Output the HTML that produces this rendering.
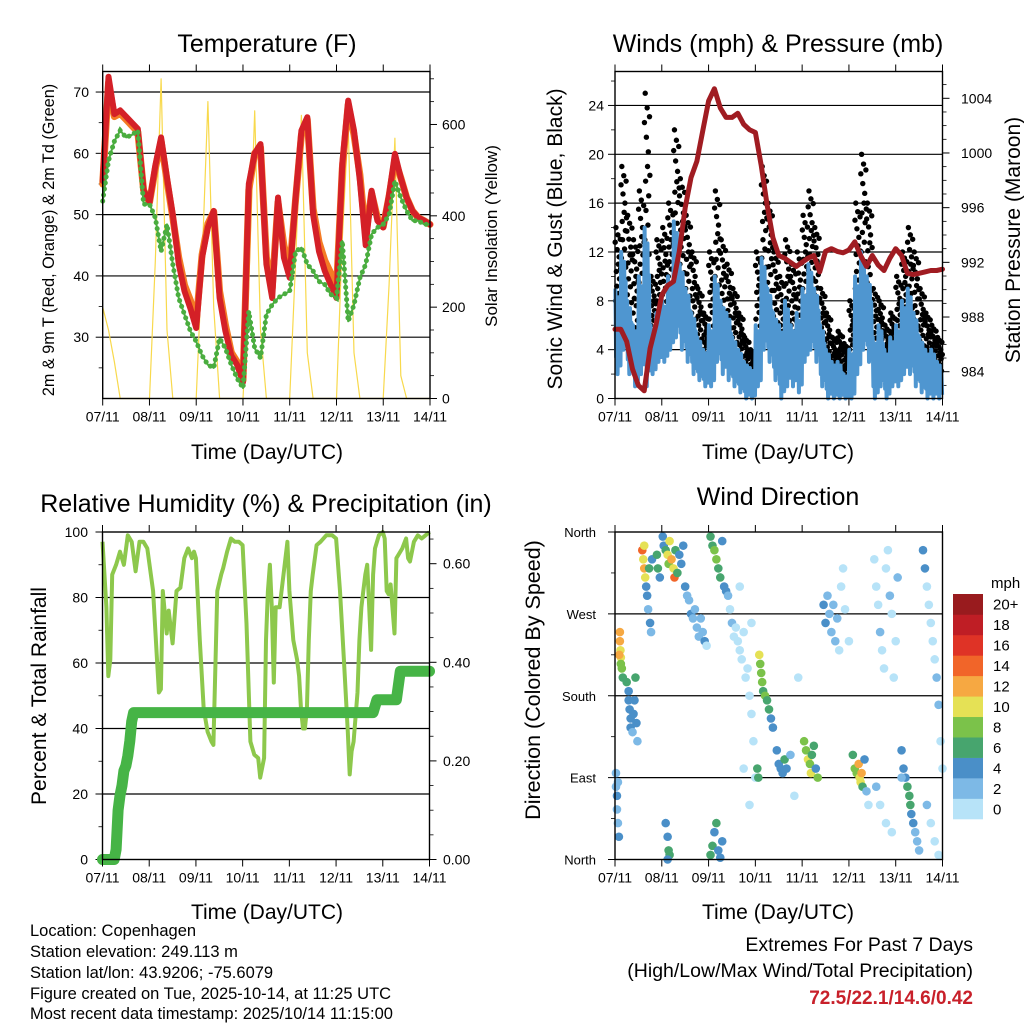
<!DOCTYPE html>
<html><head><meta charset="utf-8"><title>Weather station summary</title>
<style>
html,body{margin:0;padding:0;background:#fff;}
svg{display:block;font-family:"Liberation Sans",Arial,sans-serif;}
</style></head>
<body>
<svg id="chart" width="1024" height="1024" viewBox="0 0 1024 1024" xmlns="http://www.w3.org/2000/svg">
<rect x="0" y="0" width="1024" height="1024" fill="#fff"/>
<!-- Titles -->
<text x="267" y="52" font-size="25" text-anchor="middle">Temperature (F)</text>
<text x="778" y="52" font-size="25" text-anchor="middle">Winds (mph) &amp; Pressure (mb)</text>
<text x="266" y="512" font-size="25" text-anchor="middle">Relative Humidity (%) &amp; Precipitation (in)</text>
<text x="778" y="505" font-size="25" text-anchor="middle">Wind Direction</text>
<!-- X axis titles -->
<text x="267" y="459" font-size="21" text-anchor="middle">Time (Day/UTC)</text>
<text x="778" y="459" font-size="21" text-anchor="middle">Time (Day/UTC)</text>
<text x="267" y="919" font-size="21" text-anchor="middle">Time (Day/UTC)</text>
<text x="778" y="919" font-size="21" text-anchor="middle">Time (Day/UTC)</text>
<!-- Y axis titles -->
<text transform="translate(54,240) rotate(-90)" font-size="16.2" text-anchor="middle">2m &amp; 9m T (Red, Orange) &amp; 2m Td (Green)</text>
<text transform="translate(497,236) rotate(-90)" font-size="17" text-anchor="middle">Solar Insolation (Yellow)</text>
<text transform="translate(562,239) rotate(-90)" font-size="21" text-anchor="middle">Sonic Wind &amp; Gust (Blue, Black)</text>
<text transform="translate(1020,240) rotate(-90)" font-size="21" text-anchor="middle">Station Pressure (Maroon)</text>
<text transform="translate(46,696) rotate(-90)" font-size="21" text-anchor="middle">Percent &amp; Total Rainfall</text>
<text transform="translate(540,680) rotate(-90)" font-size="21.5" text-anchor="middle">Direction (Colored By Speed)</text>
<!-- Footer info -->
<g font-size="16.5">
<text x="30" y="936">Location: Copenhagen</text>
<text x="30" y="957">Station elevation: 249.113 m</text>
<text x="30" y="978">Station lat/lon: 43.9206; -75.6079</text>
<text x="30" y="999">Figure created on Tue, 2025-10-14, at 11:25 UTC</text>
<text x="30" y="1019">Most recent data timestamp: 2025/10/14 11:15:00</text>
</g>
<g font-size="19.5" text-anchor="end">
<text x="973" y="951">Extremes For Past 7 Days</text>
<text x="973" y="977">(High/Low/Max Wind/Total Precipitation)</text>
<text x="973" y="1004" fill="#c8202a" font-weight="bold" font-size="19">72.5/22.1/14.6/0.42</text>
</g>
<g id="layer"></g>
</svg>
<script>
// ---------- DATA ----------
const dayLabels = ["07/11","08/11","09/11","10/11","11/11","12/11","13/11","14/11"];
const hours3 = [0,3,6,9,12,15,18,21,24,27,30,33,36,39,42,45,48,51,54,57,60,63,66,69,72,75,78,81,84,87,90,93,96,99,102,105,108,111,114,117,120,123,126,129,132,135,138,141,144,147,150,153,156,159,162,165,168];
const temp2m = [55.5,72.5,66.4,67,66,65,64,54,52,58,62.6,56,50,42,37.5,34.7,31.5,43,47.9,50.6,36.4,31,27,25.5,22.7,55,60,61.5,41.9,36.4,52.8,43,39.7,52.8,63.7,65.9,50,44,40.8,38.6,36.4,58.3,68.6,63.7,55.5,45,53.9,49,47.9,53.3,59.9,56,52.8,50.6,49.5,49,48.4];
const temp9m = [55,71.5,66,66.5,65.5,64.5,63.5,54,52,57.5,62,55.5,49.5,43,38.5,36,32.5,43.5,48.5,50.5,37.5,32,27.5,26,23,54,60,61,43,38,52,45,41,52.5,63,65.5,51,45.5,42.5,40.5,38,57.5,68,63,56.5,46.5,53.5,49.5,48,53,59,56,52.8,50.6,49.5,49,48.4];
const dewpoint = [52.2,58.8,62,63.7,62.6,63,63.7,51.7,51.7,49.5,44,48.4,41.9,36.4,33.7,31,29.3,27,25.5,25,29.8,28.2,25.5,23.3,21.7,34.2,28.2,26.6,33.7,35.3,36.4,37,37.5,44,44.6,41.9,40.8,39.1,38.6,37,36.4,45.7,32.6,35.3,39.7,41.9,46.8,47.9,48.4,50,55.5,52.8,50.6,49,49,48.4,48.4];
const solar = [200,150,80,0,0,0,0,0,0,300,700,150,0,0,0,0,0,300,650,200,0,0,0,0,0,250,630,150,0,0,0,0,0,300,620,100,0,0,0,0,0,350,600,100,0,0,0,0,0,250,570,50,0,0,0,0,0];
const pressure = [987.1,987.1,986.2,984.2,983,982.6,985.7,987.4,989.6,990.3,990.6,992.8,996,998.2,999.4,1001.6,1003.8,1004.7,1003.3,1002.6,1002.6,1002.9,1002.1,1001.7,1001.5,999.1,996.2,993.8,992.5,992.3,992,991.7,992,992.3,992.5,991.3,992.8,993,992.8,992.7,992.9,993.5,992.5,991.7,992.5,991.8,991.4,992.3,993,992.5,991.2,991.1,991.2,991.3,991.4,991.4,991.5];
// wind per 3-hour bin (bin i spans hours3[i]..hours3[i+1])
const windHigh = [9,12,8,6,10,14,6,7,8,10,14.5,11,9,7,5,4,6,10,8,7,5,4,3,2.5,6,11.5,9,7,6,8,6,7,9,11,9,6,4,3,3,2,4,10,12,10,5,6,4,5,6,8,9,7,5,4,4,3];
const windLow = [2,4,2,1,2,1,2,3,3,4,5,4,3,2,1.5,1,1,3,2,1.5,1,0.5,0,0,1,4,3,1.5,0,1,1,0.5,3,4,3,1,0,0,0,0,0,2,4,3,0,1,0,1,1,2,2,1,0.5,0,0,0];
const gustHigh = [14,19,15,13,17,25,10,13,14,16,22,18,15,12,9,7,12,17,13,11,9,7,5,4,12,19,16,12,10,13,11,12,15,17,14,9,7,5,5.5,4.5,8,16,20,16,9,8,6,7,10,12,14,12,9,7,6,5];
const rhHours = [0,2,3,4,5,7,9,11,13,15,17,19,21,23,26,28,29,30,31,33,34,36,38,40,42,44,46,47,48,50,52,54,56,57,59,61,62,64,66,68,70,72,74,76,78,80,81,83,84,85,86,87,88,89,91,93,95,96,98,100,101,102,103,104,105,106,107,108,110,112,115,118,120,122,124,126,127,128,129,131,132,133,134,135,136,137,138,139,140,142,144,145,146,147,148,150,151,152,154,156,157,158,160,162,164,166,168];
const rhValues = [97,77,56,61,87,90,94,90,99,97,88,97,97,95,82,61,51,52,82,69,76,66,82,83,92,95,92,94,92,67,46,39,36,35,82,87,89,94,98,97,97,96,72,36,32,31,25,31,67,82,90,77,54,77,77,87,97,82,67,61,56,46,40,40,46,67,82,87,96,97,99,99,98,82,61,39,26,33,36,51,67,77,82,87,90,77,64,87,95,99,100,98,82,81,84,69,92,93,95,98,92,91,97,99,98,99,100];
const rainHours = [0,6,7,8,9,10,11,12,13,14,15,16,139,141,151,153,168];
const rainValues = [0,0,0.02,0.1,0.13,0.15,0.18,0.19,0.21,0.24,0.28,0.298,0.298,0.324,0.324,0.382,0.382];
const dirHours = [0.5,0.5,1,1,1.5,2,1.5, 2.5,2.5,2.8,3,3,3.5,4,2.2, 6,7,7,7.5,8,8,9,9.5,10,10.5,11,11.5, 14,14.5,15,15.5,15,16,16.5,17,18,18.5,17.5,19, 21.5,22,23, 24.5,25,26,27,27.5,28,29,30,30.5,31,32,33,34,35,36,37, 26,27,27.5,28,27, 38,39,40,41,42,43,44,45,46,47, 49,50,51,52,53,54,55,56,57,49,50,51,52,53,54,55, 58,59,60,61,62,63,64,65,66,67,68,69,70,71,72,64,70,66,69, 74,74.5,75,75.5,76,77,78,79,80,81,73,73.5, 83,84,85,86,87,88,90,92,94, 97,98,99,100,100.5,101,102,103,104, 107,108,109,110,111,112,113,114,115,116,118,120,117, 122,123,124,125,125.5,126,126.5,127,128,129,130, 133,134,135,136,137,138,139,140,141,142,143,144,145,134,136,139,142, 147,148,149,150,151,151.5,152,153,154,155,156,147, 158,159,160,161,162,163,164,165,166,167,168,160,162,164,166];
const dirDegrees = [95,80,70,55,40,25,85, 250,240,230,222,215,210,200,225, 195,185,175,165,155,145,140,160,175,200,150,130, 340,330,320,310,345,300,290,275,260,250,320,330, 335,320,310, 355,345,340,335,325,350,330,320,310,340,315,335,325,345,300,290, 40,25,10,5,0, 285,270,265,275,255,245,265,250,240,235, 355,345,340,330,320,310,350,300,295,5,15,30,40,10,2,20, 290,275,260,245,255,240,230,220,250,200,210,180,160,130,90,300,260,100,60, 225,215,205,195,185,180,175,165,155,145,100,90, 120,105,100,95,110,100,115,70,200, 130,120,110,105,95,115,125,100,90, 280,260,290,270,250,280,240,265,230,300,275,240,320, 115,100,95,105,90,85,95,80,110,75,60, 330,300,280,250,230,210,320,340,290,270,200,240,310,80,60,40,30, 120,100,90,80,70,60,50,40,30,20,10,90, 340,320,300,280,260,240,220,200,170,130,100,60,40,20,5];
const dirSpeeds = [3,3,4,3,3,4,2, 12,13,10,11,9,8,6,13, 6,5,4,4,4,4,3,4,5,6,4,2, 14,10,12,10,10,4,4,3,4,3,6,4, 6,6,5, 4,5,6,10,8,10,12,10,14,7,6,4,5,4,4,3, 4,4,6,7,4, 3,4,2,3,2,2,3,2,4,1, 6,7,9,8,7,6,4,5,4,7,6,4,6,4,4,5, 2,1,2,0,1,1,0,1,0,0,1,0,1,0,1,0,1,0,1, 10,9,8,8,7,8,6,7,4,4,6,7, 4,4,5,4,6,4,3,1,1, 8,9,10,8,11,7,6,5,9, 4,4,3,3,2,2,3,2,1,1,1,1,0, 6,8,9,12,11,10,13,6,4,2,1, 1,0,1,2,0,1,1,0,2,1,0,1,2,2,1,0,1, 4,4,5,6,7,6,4,4,3,3,2,3, 5,4,1,0,1,0,1,2,2,1,1,2,1,0,1];
const speedColors = ["#b7e3f8","#7db9e6","#4a8fc8","#47a56e","#7bc24a","#e5e155","#f6a842","#f16529","#df3326","#bf1e25","#991b1e"];
const speedLabels = ["0","2","4","6","8","10","12","14","16","18","20+"];
// style pattern for gust dots within a bin (fractions of bin span / value span)
const gustDotFrac = [0.9,0.5,1,0.7,0.6,0.85,0.4,0.95,0.75,0.55,0.8,0.65,0.45,0.92,0.72];
// style pattern for blue zigzag within a bin
const zigFrac = [1,0.2,0.8,0,0.9,0.35,0.7,0.1];

// ---------- HELPERS ----------
const NS = "http://www.w3.org/2000/svg";
const layer = document.getElementById("layer");
function mk(tag, attrs, parent){
  const e = document.createElementNS(NS, tag);
  for (const k in attrs) e.setAttribute(k, attrs[k]);
  (parent || layer).appendChild(e);
  return e;
}
const P1 = {x0:102.7, x1:430, y0:71.5, y1:398.5};
const P2 = {x0:615, x1:942.5, y0:71.5, y1:398.5};
const P3 = {x0:102.5, x1:429.5, y0:532, y1:859.5};
const P4 = {x0:615, x1:942.5, y0:532, y1:859.5};
function xs(P, h){ return P.x0 + h/168*(P.x1-P.x0); }
function linY(P, lo, hi){ return v => P.y1 - (v-lo)/(hi-lo)*(P.y1-P.y0); }

const yTemp = linY(P1, 20, 73.35);
const ySolar = linY(P1, 0, 716);
const yWind = linY(P2, 0, 26.78);
const yPres = v => 371.7 - (v-984)*13.67;
const yRH = linY(P3, 0, 100);
const yRain = linY(P3, 0, 0.6643);
const yDir = linY(P4, 0, 360);

function gridAndTicks(P, name, vals, yf, labels, side, minor, fs, lx){
  const g = mk("g", {});
  
  
  vals.forEach((v,i)=>{
    const y = yf(v);
    if (side==="left" && y > P.y0+2 && y < P.y1-2){
      const gl = mk("line",{x1:P.x0,x2:P.x1,y1:y,y2:y,stroke:"#000","stroke-width":1.2},g);
      
      
    }
    const tx = side==="left" ? P.x0 : P.x1;
    const dir = side==="left" ? -1 : 1;
    const t = mk("line",{x1:tx,x2:tx+dir*7,y1:y,y2:y,stroke:"#000","stroke-width":1},g);
    
    
    const lab = mk("text",{x: lx, y: y+5, "font-size":fs, "text-anchor": side==="left"?"end":"start"},g);
    lab.textContent = labels[i];
    
    
  });
  minor.forEach(v=>{
    const y = yf(v);
    if (y < P.y0-0.5 || y > P.y1+0.5) return;
    const tx = side==="left" ? P.x0 : P.x1;
    const dir = side==="left" ? -1 : 1;
    const t = mk("line",{x1:tx,x2:tx+dir*4,y1:y,y2:y,stroke:"#000","stroke-width":0.8},g);
    
    
  });
}
function frame(P, name){
  const g = mk("g", {});
  
  
  const r = mk("rect",{x:P.x0,y:P.y0,width:P.x1-P.x0,height:P.y1-P.y0,fill:"none",stroke:"#000","stroke-width":1.4},g);
  
  
  dayLabels.forEach((d,i)=>{
    const x = xs(P, i*24);
    const tb = mk("line",{x1:x,x2:x,y1:P.y1,y2:P.y1+7,stroke:"#000","stroke-width":1},g);
    
    
    const tt = mk("line",{x1:x,x2:x,y1:P.y0,y2:P.y0-7,stroke:"#000","stroke-width":1},g);
    
    
    const lab = mk("text",{x:x,y:P.y1+23,"font-size":14,"text-anchor":"middle"},g);
    lab.textContent = d;
    
    
  });
}
function polyPts(P, hs, vs, yf){ return hs.map((h,i)=>xs(P,h).toFixed(1)+","+yf(vs[i]).toFixed(1)).join(" "); }

// ---------- PANEL 1: TEMPERATURE ----------
gridAndTicks(P1, "temperature-y-axis", [30,40,50,60,70], yTemp, ["30","40","50","60","70"], "left", [25,35,45,55,65], 14, 89);
gridAndTicks(P1, "solar-y-axis", [0,200,400,600], ySolar, ["0","200","400","600"], "right", [50,100,150,250,300,350,450,500,550,650,700], 14, 442);
const solarLine = mk("polyline",{points:polyPts(P1,hours3,solar,ySolar),fill:"none",stroke:"#f8d94c","stroke-width":1.2,"stroke-linejoin":"round"});


const t9 = mk("polyline",{points:polyPts(P1,hours3,temp9m,yTemp),fill:"none",stroke:"#f47b25","stroke-width":7,"stroke-linejoin":"round","stroke-linecap":"round"});


const t2 = mk("polyline",{points:polyPts(P1,hours3,temp2m,yTemp),fill:"none",stroke:"#d42027","stroke-width":6,"stroke-linejoin":"round","stroke-linecap":"round"});


const tdLine = mk("polyline",{points:polyPts(P1,hours3,dewpoint,yTemp),fill:"none",stroke:"#4aad3f","stroke-width":2,"stroke-linejoin":"round"});


const tdDots = mk("polyline",{points:polyPts(P1,hours3,dewpoint,yTemp),fill:"none",stroke:"#4aad3f","stroke-width":5,"stroke-dasharray":"0.1 6","stroke-linecap":"round"});


frame(P1, "temperature-frame");

// ---------- PANEL 2: WIND & PRESSURE ----------
gridAndTicks(P2, "wind-y-axis", [0,4,8,12,16,20,24], yWind, ["0","4","8","12","16","20","24"], "left", [2,6,10,14,18,22,26], 14, 604);
gridAndTicks(P2, "pressure-y-axis", [984,988,992,996,1000,1004], yPres, ["984","988","992","996","1000","1004"], "right",
  [983,985,986,987,989,990,991,993,994,995,997,998,999,1001,1002,1003,1005,1006], 14, 961);
const gustG = mk("g",{fill:"#000"});


windHigh.forEach((hi,i)=>{
  const h0 = hours3[i], h1 = hours3[i+1];
  const lo = windLow[i], gu = gustHigh[i];
  gustDotFrac.forEach((f,k)=>{
    const h = h0 + (k+0.5)/gustDotFrac.length*(h1-h0);
    const v = lo + (gu-lo)*f;
    const c = mk("circle",{cx:xs(P2,h),cy:yWind(v),r:2.7},gustG);
    
    
  });
});
// blue zigzag wind trace
const blueG = mk("g",{});


const zpts = [];
windHigh.forEach((hi,i)=>{
  const h0 = hours3[i], h1 = hours3[i+1], lo = windLow[i];
  zigFrac.forEach((f,k)=>{
    const h = h0 + (k+0.5)/zigFrac.length*(h1-h0);
    zpts.push(xs(P2,h).toFixed(1)+","+yWind(lo+(hi-lo)*f).toFixed(1));
  });
});
const zig = mk("polyline",{points:zpts.join(" "),fill:"none",stroke:"#4f96d0","stroke-width":4,"stroke-linejoin":"round"},blueG);


const pres = mk("polyline",{points:polyPts(P2,hours3,pressure,yPres),fill:"none",stroke:"#a01c22","stroke-width":5,"stroke-linejoin":"round","stroke-linecap":"round"});


frame(P2, "wind-frame");

// ---------- PANEL 3: RH & RAIN ----------
gridAndTicks(P3, "humidity-y-axis", [0,20,40,60,80,100], yRH, ["0","20","40","60","80","100"], "left", [10,30,50,70,90], 14, 88);
gridAndTicks(P3, "rain-y-axis", [0,0.2,0.4,0.6], yRain, ["0.00","0.20","0.40","0.60"], "right", [0.05,0.1,0.15,0.25,0.3,0.35,0.45,0.5,0.55,0.65], 14, 443);
const rh = mk("polyline",{points:polyPts(P3,rhHours,rhValues,yRH),fill:"none",stroke:"#8dc84c","stroke-width":4,"stroke-linejoin":"round"});


const rain = mk("polyline",{points:polyPts(P3,rainHours,rainValues,yRain),fill:"none",stroke:"#46b446","stroke-width":11,"stroke-linejoin":"round","stroke-linecap":"round"});


frame(P3, "humidity-frame");

// ---------- PANEL 4: WIND DIRECTION ----------
gridAndTicks(P4, "direction-y-axis", [0,90,180,270,360], yDir, ["North","East","South","West","North"], "left", [45,135,225,315], 13, 596);
const dirG = mk("g",{});


dirHours.forEach((h,i)=>{
  const idx = Math.max(0, Math.min(10, Math.floor(dirSpeeds[i]/2)));
  const c = mk("circle",{cx:xs(P4,h),cy:yDir(dirDegrees[i]),r:4.3,fill:speedColors[idx]},dirG);
  
  
});
frame(P4, "direction-frame");
// colorbar
const cb = mk("g",{});


const cbTop = 594, cbBot = 819, cbH = (cbBot-cbTop)/speedColors.length;
speedColors.forEach((c,i)=>{
  const y = cbBot - (i+1)*cbH;
  const r = mk("rect",{x:953,y:y,width:30,height:cbH+0.3,fill:c},cb);
  
  
  const t = mk("text",{x:993,y:y+cbH/2+5.5,"font-size":15},cb);
  t.textContent = speedLabels[i];
  
  
});
const mph = mk("text",{x:991,y:588,"font-size":15},cb);
mph.textContent = "mph";


</script>
</body></html>
